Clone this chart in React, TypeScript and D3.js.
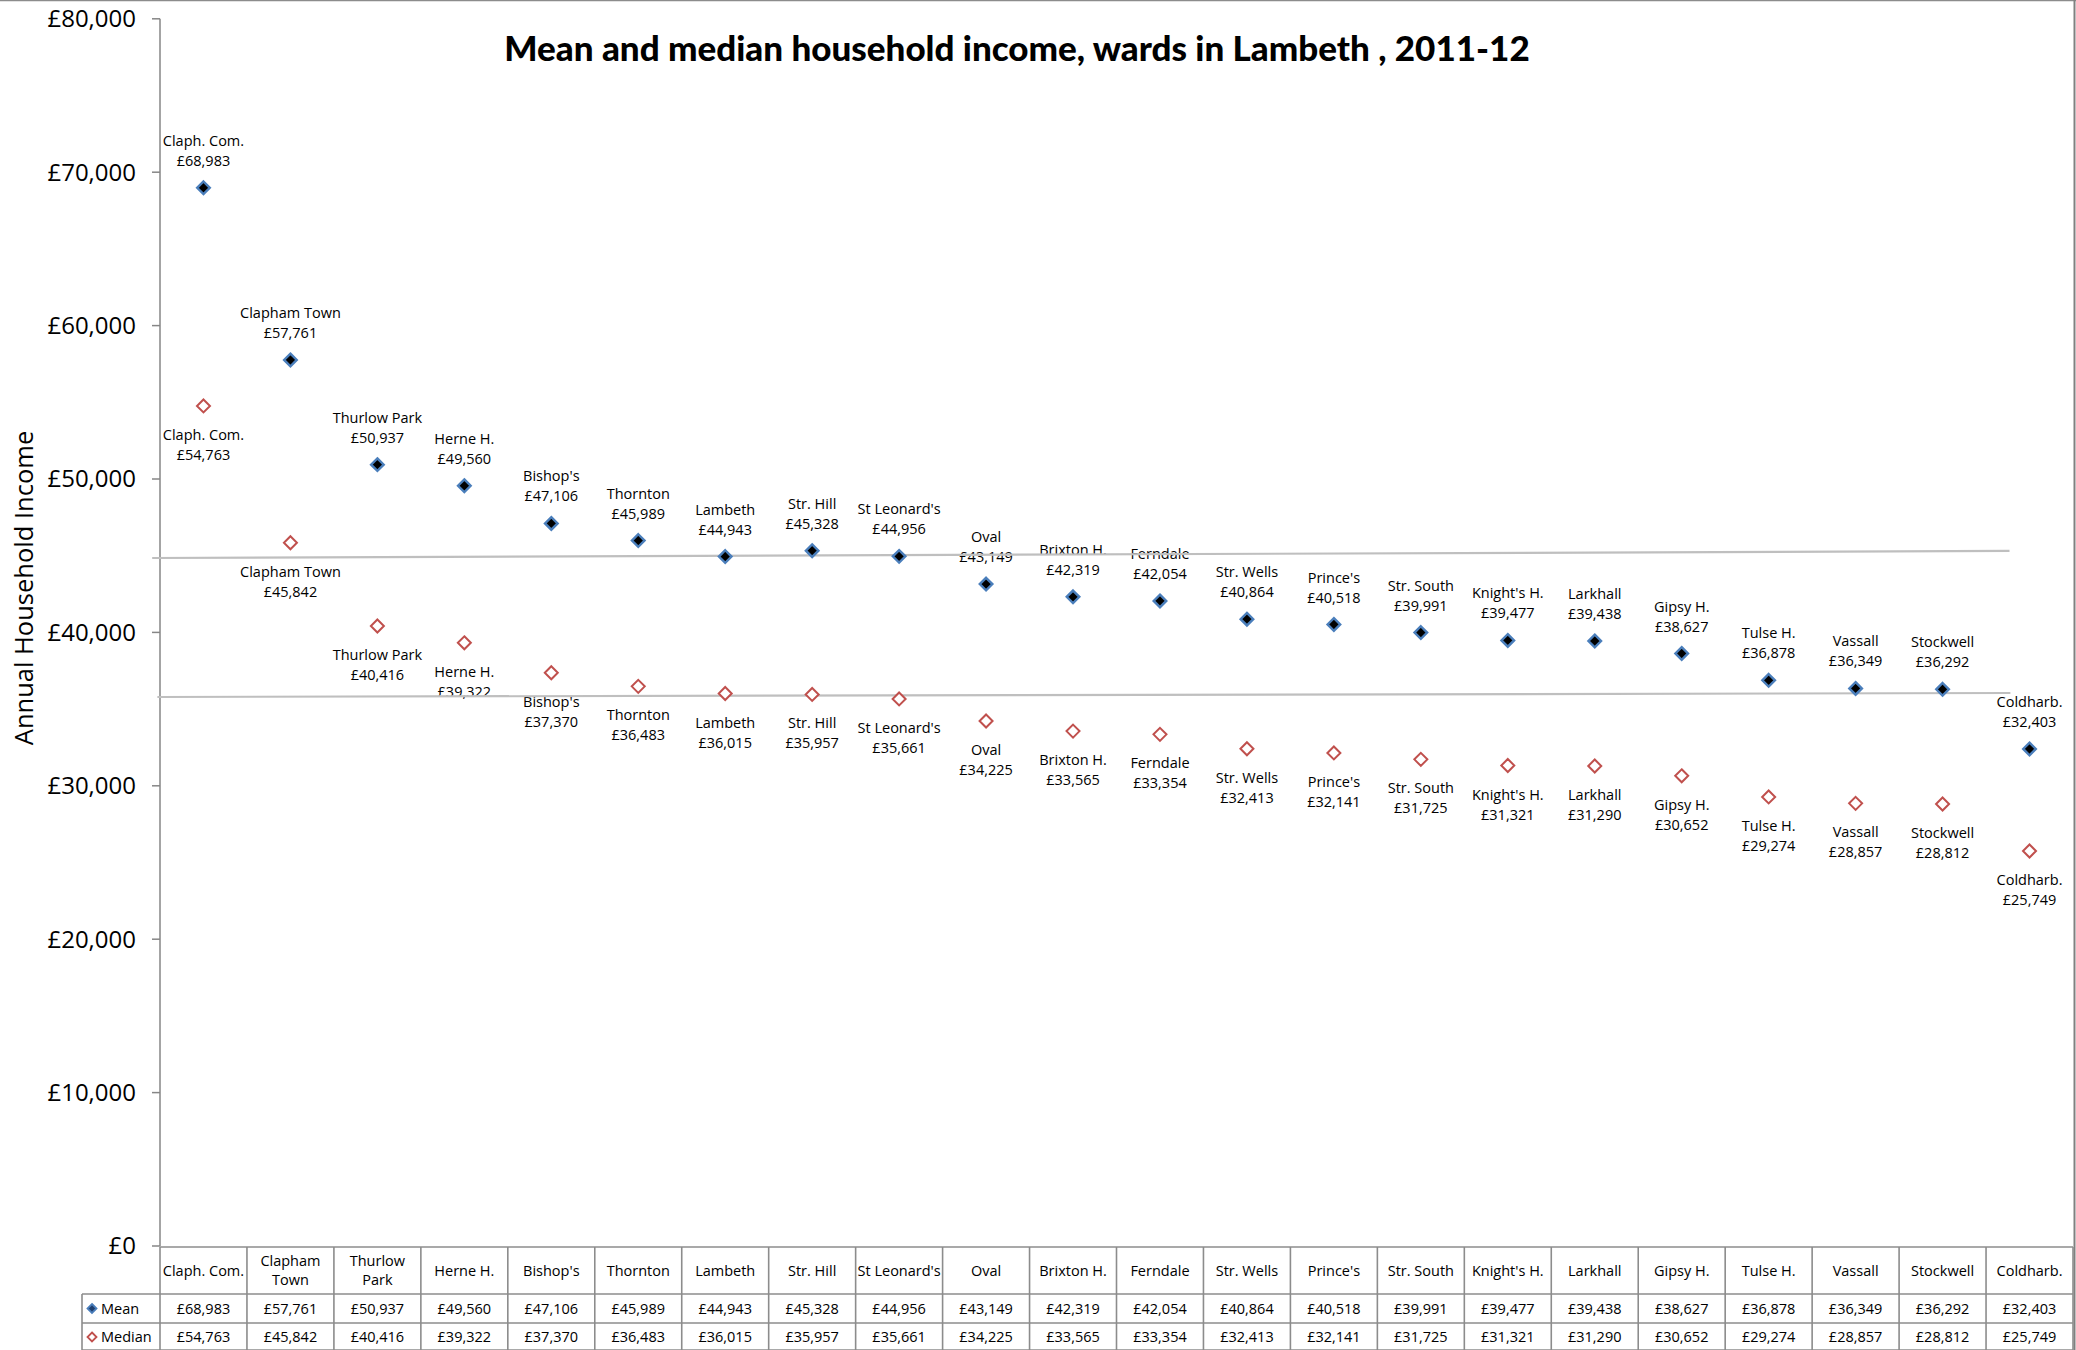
import React from "react";
import * as d3 from "d3";

const categories = ["Claph. Com.", "Clapham Town", "Thurlow Park", "Herne H.", "Bishop's", "Thornton", "Lambeth", "Str. Hill", "St Leonard's", "Oval", "Brixton H.", "Ferndale", "Str. Wells", "Prince's", "Str. South", "Knight's H.", "Larkhall", "Gipsy H.", "Tulse H.", "Vassall", "Stockwell", "Coldharb."];
const tableCategoryLines = [["Claph. Com."], ["Clapham", "Town"], ["Thurlow", "Park"], ["Herne H."], ["Bishop's"], ["Thornton"], ["Lambeth"], ["Str. Hill"], ["St Leonard's"], ["Oval"], ["Brixton H."], ["Ferndale"], ["Str. Wells"], ["Prince's"], ["Str. South"], ["Knight's H."], ["Larkhall"], ["Gipsy H."], ["Tulse H."], ["Vassall"], ["Stockwell"], ["Coldharb."]];
const meanValues = [68983, 57761, 50937, 49560, 47106, 45989, 44943, 45328, 44956, 43149, 42319, 42054, 40864, 40518, 39991, 39477, 39438, 38627, 36878, 36349, 36292, 32403];
const medianValues = [54763, 45842, 40416, 39322, 37370, 36483, 36015, 35957, 35661, 34225, 33565, 33354, 32413, 32141, 31725, 31321, 31290, 30652, 29274, 28857, 28812, 25749];
const yTicks = [0, 10000, 20000, 30000, 40000, 50000, 60000, 70000, 80000];
// Reference lines (Lambeth level), endpoints in category-index space and values
const meanRefLine = [{ i: -0.59, v: 44850 }, { i: 20.77, v: 45310 }];
const medianRefLine = [{ i: -0.53, v: 35790 }, { i: 20.78, v: 36050 }];

const W = 2076;
const H = 1350;
const FONT = "'Open Sans', 'Noto Sans', sans-serif";

export default function App() {
  const left = 160;
  const right = 2073;
  const y = d3.scaleLinear().domain([0, 80000]).range([1246, 18.8]);
  const x = d3.scaleBand<string>().domain(categories).range([left, right]).padding(0);
  const bw = x.bandwidth();
  const cx = (i: number) => left + bw * (i + 0.5);
  const fmt = (v: number) => "£" + d3.format(",")(v);
  const diamond = (r: number) => `M0,${-r}L${r},0L0,${r}L${-r},0Z`;
  const line = d3.line<{ i: number; v: number }>().x((d) => cx(d.i)).y((d) => y(d.v));

  const tableTop = 1247;
  const row1 = 1294;
  const row2 = 1323;
  const row3 = 1351;
  const legendLeft = 82;
  const gridColor = "#8c8c8c";

  return (
    <svg width={W} height={H} style={{ position: "absolute", left: 0, top: 0, display: "block", background: "#fff" }} fontFamily={FONT}>
      <rect x={0} y={0} width={W} height={H} fill="#fff" />
      {/* borders */}
      <line x1={0} x2={W} y1={0.5} y2={0.5} stroke="#8c8c8c" strokeWidth={1.5} />
      <line x1={2074.5} x2={2074.5} y1={0} y2={H} stroke="#808080" strokeWidth={2} />

      {/* title */}
      <text x={1017} y={61} textAnchor="middle" fontFamily="Lato, 'Open Sans', sans-serif" fontWeight={900} fontSize={35} fill="#000">
        Mean and median household income, wards in Lambeth , 2011-12
      </text>

      {/* y axis */}
      <line x1={left} x2={left} y1={y(80000)} y2={y(0)} stroke="#868686" strokeWidth={1.5} />
      {yTicks.map((t) => (
        <g key={t}>
          <line x1={left - 8} x2={left} y1={y(t)} y2={y(t)} stroke="#868686" strokeWidth={1.5} />
          <text x={136} y={y(t)} dy="0.35em" textAnchor="end" fontSize={24} fill="#000">
            {fmt(t)}
          </text>
        </g>
      ))}
      <text transform={`translate(24,588) rotate(-90)`} textAnchor="middle" dy="0.35em" fontSize={25.5} fill="#000">
        Annual Household Income
      </text>

      {/* labels */}
      {categories.map((c, i) => (
        <g key={"lbl" + c} fontSize={14.5} fill="#000" textAnchor="middle">
          <text x={cx(i)} y={y(meanValues[i]) - 47} dy="0.35em">{c}</text>
          <text x={cx(i)} y={y(meanValues[i]) - 27} dy="0.35em">{fmt(meanValues[i])}</text>
          <text x={cx(i)} y={y(medianValues[i]) + 29} dy="0.35em">{c}</text>
          <text x={cx(i)} y={y(medianValues[i]) + 49} dy="0.35em">{fmt(medianValues[i])}</text>
        </g>
      ))}

      {/* reference lines */}
      <path d={line(meanRefLine) || ""} stroke="#bfbfbf" strokeWidth={2.2} fill="none" />
      <path d={line(medianRefLine) || ""} stroke="#bfbfbf" strokeWidth={2.2} fill="none" />

      {/* markers */}
      {categories.map((c, i) => (
        <g key={"m" + c}>
          <path transform={`translate(${cx(i)},${y(medianValues[i])})`} d={diamond(6.5)} fill="#fff" stroke="#C0504D" strokeWidth={2} />
          <path transform={`translate(${cx(i)},${y(meanValues[i])})`} d={diamond(6.3)} fill="#000" stroke="#4A7EBB" strokeWidth={2.4} />
        </g>
      ))}

      {/* data table */}
      <g stroke={gridColor} strokeWidth={1.6}>
        <line x1={left} x2={right} y1={tableTop} y2={tableTop} />
        <line x1={legendLeft} x2={right} y1={row1} y2={row1} />
        <line x1={legendLeft} x2={right} y1={row2} y2={row2} />
        <line x1={legendLeft} x2={right} y1={row3 - 1} y2={row3 - 1} />
        <line x1={legendLeft} x2={legendLeft} y1={row1} y2={row3} />
        {categories.map((c, i) => (
          <line key={"v" + c} x1={(x(c) as number)} x2={(x(c) as number)} y1={tableTop} y2={row3} />
        ))}
        <line x1={right} x2={right} y1={tableTop} y2={row3} />
      </g>
      {categories.map((c, i) => {
        const lines = tableCategoryLines[i];
        const mid = (tableTop + row1) / 2;
        return (
          <g key={"t" + c} fontSize={14.5} fill="#000" textAnchor="middle">
            {lines.map((l, k) => (
              <text key={k} x={cx(i)} y={mid + (k - (lines.length - 1) / 2) * 18.5} dy="0.35em">{l}</text>
            ))}
            <text x={cx(i)} y={(row1 + row2) / 2} dy="0.35em">{fmt(meanValues[i])}</text>
            <text x={cx(i)} y={(row2 + row3) / 2} dy="0.35em">{fmt(medianValues[i])}</text>
          </g>
        );
      })}
      {/* legend keys */}
      <path transform={`translate(92,${(row1 + row2) / 2})`} d={diamond(4.5)} fill="#1f3f6e" stroke="#4A7EBB" strokeWidth={1.8} />
      <text x={101} y={(row1 + row2) / 2} dy="0.35em" fontSize={14.5} fill="#000">Mean</text>
      <path transform={`translate(92,${(row2 + row3) / 2})`} d={diamond(4.5)} fill="#fff" stroke="#C0504D" strokeWidth={1.8} />
      <text x={101} y={(row2 + row3) / 2} dy="0.35em" fontSize={14.5} fill="#000">Median</text>
    </svg>
  );
}
